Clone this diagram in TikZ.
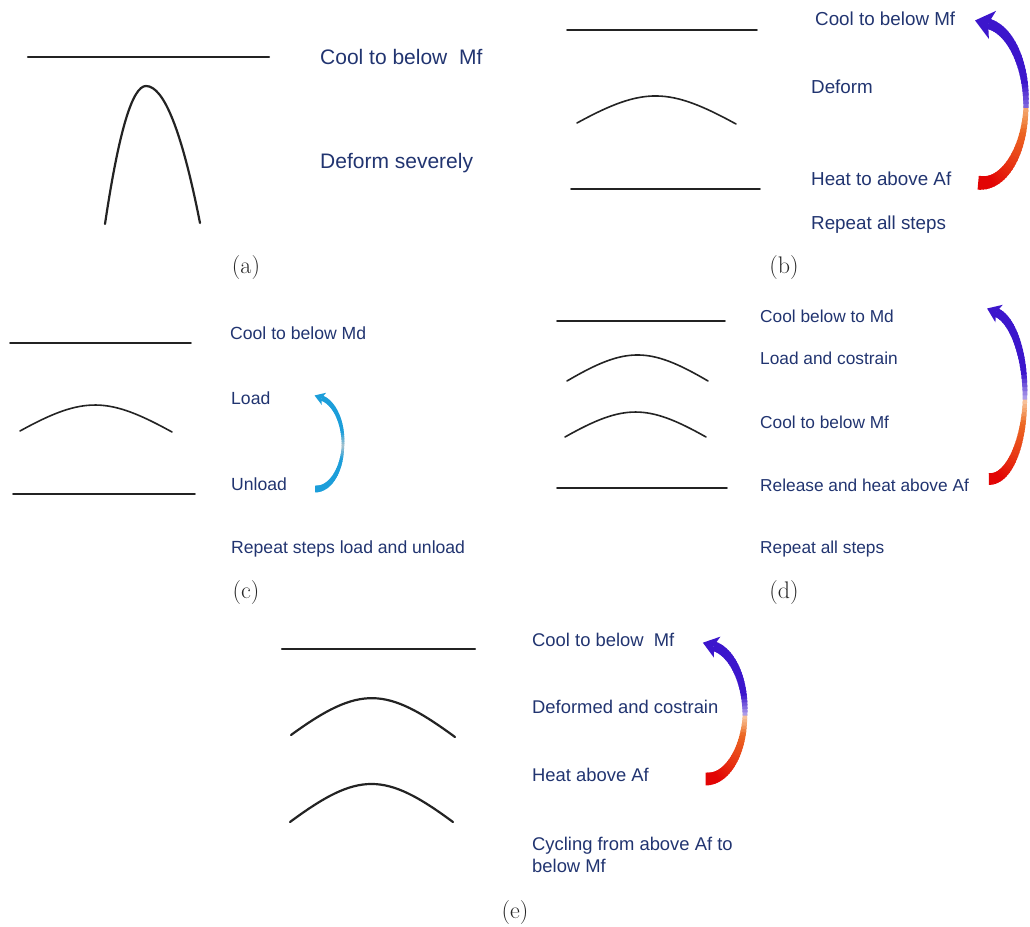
\documentclass[tikz,border=0pt]{standalone}
\usepackage{fontspec}
\newfontfamily\arialf{Liberation Sans}
\definecolor{txtblue}{RGB}{33,52,112}
\definecolor{smared}{RGB}{226,4,4}
\definecolor{smaorange}{RGB}{238,122,40}
\definecolor{smablue}{RGB}{60,22,204}
\definecolor{smacyan}{RGB}{28,158,218}
\definecolor{platec}{RGB}{35,35,35}

% gradient arc arrow: cx cy rx ry a0 a1 wmax headlen headwid
\newcommand{\smaarrow}[9]{%
  \foreach \i in {0,...,59}{%
    \pgfmathsetmacro\ta{#5+(#6-#5)*\i/60}%
    \pgfmathsetmacro\tb{#5+(#6-#5)*min(60,\i+1.5)/60}%
    \pgfmathsetmacro\tt{(\i+0.5)/60}%
    \pgfmathsetmacro\ww{#7*(0.4+0.6*abs(2*\tt-1))*(1-0.25*\tt)}%
    \pgfmathsetmacro\wh{max(0,1-abs(\tt-0.52)/0.1)*\fademax}%
    \pgfmathtruncatemacro\low{\tt<0.52}%
    \ifnum\low=1
      \pgfmathsetmacro\po{min(100,max(0,(\tt-0.1)/0.38*100))}%
      \colorlet{segbase}{\lowtwo!\po!\lowone}%
    \else
      \colorlet{segbase}{\upc}%
    \fi
    \colorlet{segc}{\fadec!\wh!segbase}%
    \draw[segc, line width=\ww pt] ({#1+#3*cos(\ta)},{#2-#4*sin(\ta)}) -- ({#1+#3*cos(\tb)},{#2-#4*sin(\tb)});
  }%
  \pgfmathsetmacro\hx{#1+#3*cos(#6)}%
  \pgfmathsetmacro\hy{#2-#4*sin(#6)}%
  \pgfmathsetmacro\hang{atan2(#4*cos(#6),-#3*sin(#6))}%
  \begin{scope}[shift={(\hx,\hy)},rotate=\hang]
    \fill[\upc] ({0.75*#8},0) -- ({-0.25*#8},{#9/2}) -- (0,0) -- ({-0.25*#8},{-#9/2}) -- cycle;
  \end{scope}
}

\begin{document}
\begin{tikzpicture}[x=1pt,y=-1pt,
  lbl/.style={anchor=base west, inner sep=0pt, text=txtblue, font=\arialf\fontsize{#1}{22}\selectfont},
  panel/.style={inner sep=0pt, text=black!85, font=\fontsize{24}{28}\selectfont},
  plate/.style={draw=platec, line width=1.6pt, line cap=round},
  thickplate/.style={draw=platec, line width=2.2pt, line cap=round}]
\useasboundingbox (0,0) rectangle (1030,926);

% ---------------- (a)
\draw[thickplate] (28,57) -- (269,57);
\draw[thickplate] (105,224) .. controls (118.7,132) and (132.3,86) .. (146,86)
                  .. controls (164,86) and (182,131.7) .. (200,223);
\node[lbl=21] (a1) at (320,64) {Cool to below~ Mf};
\node[lbl=21] (a2) at (320,168) {Deform severely};
\node[panel] (la) at (246,268) {(a)};

% ---------------- (b)
\draw[plate] (567,30) -- (757,30);
\draw[plate] (577,123) .. controls (644,86.3) and (669,87.3) .. (736,124);
\draw[plate] (571,189) -- (760,189);
\node[lbl=18.8] (b1) at (815,25) {Cool to below Mf};
\node[lbl=18.8] (b2) at (811,93) {Deform};
\node[lbl=18.8] (b3) at (811,185) {Heat to above Af};
\node[lbl=18.8] (b4) at (811,229) {Repeat all steps};
\node[panel] (lb) at (784,268) {(b)};
\def\lowone{smared}\def\lowtwo{smaorange}\def\upc{smablue}\def\fadec{white}\def\fademax{35}
\smaarrow{982}{103}{44}{80}{-95}{82}{14}{18}{29}

% ---------------- (c)
\draw[plate] (10,343) -- (191,343);
\draw[plate] (20,431) .. controls (84,395.7) and (108,396.7) .. (172,432);
\draw[plate] (13,494) -- (195,494);
\node[lbl=17.6] (c1) at (230,339) {Cool to below Md};
\node[lbl=17.6] (c2) at (231,404) {Load};
\node[lbl=17.6] (c3) at (231,490) {Unload};
\node[lbl=17.6] (c4) at (231,553) {Repeat steps load and unload};
\node[panel] (lc) at (246,593) {(c)};
\def\lowone{smacyan}\def\lowtwo{smacyan}\def\upc{smacyan}\def\fadec{white!80!black}\def\fademax{80}
\smaarrow{316}{443}{27}{46}{-92}{78}{7}{10}{13}

% ---------------- (d)
\draw[plate] (557,321) -- (725,321);
\draw[plate] (567,381) .. controls (626,346.3) and (649,346.3) .. (708,381);
\draw[plate] (565,437) .. controls (624,403.7) and (647,403.7) .. (706,437);
\draw[plate] (557,488) -- (727,488);
\node[lbl=17.3] (d1) at (760,322) {Cool below to Md};
\node[lbl=17.3] (d2) at (760,364) {Load and costrain};
\node[lbl=17.3] (d3) at (760,428) {Cool to below Mf};
\node[lbl=17.3] (d4) at (760,491) {Release and heat above Af};
\node[lbl=17.3] (d5) at (760,553) {Repeat all steps};
\node[panel] (ld) at (784,593) {(d)};
\def\lowone{smared}\def\lowtwo{smaorange}\def\upc{smablue}\def\fadec{white}\def\fademax{60}
\smaarrow{990}{395}{35}{84}{-92}{80}{12}{13}{19}

% ---------------- (e)
\draw[thickplate] (282,649) -- (475,649);
\draw[thickplate] (291,735) .. controls (360,684.8) and (386,686.3) .. (455,737);
\draw[thickplate] (290,822) .. controls (358.5,771.3) and (384.5,771.3) .. (453,822);
\node[lbl=18.4] (e1) at (532,646) {Cool to below~ Mf};
\node[lbl=18.4] (e2) at (532,713) {Deformed and costrain};
\node[lbl=18.4] (e3) at (532,781) {Heat above Af};
\node[lbl=18.4, anchor=north west, align=left] (e4) at (532,836.5) {Cycling from above Af to\\below Mf};
\node[panel] (le) at (515,912) {(e)};
\smaarrow{707}{712}{38}{67}{-92}{80}{13}{15}{22}
\end{tikzpicture}
\end{document}
